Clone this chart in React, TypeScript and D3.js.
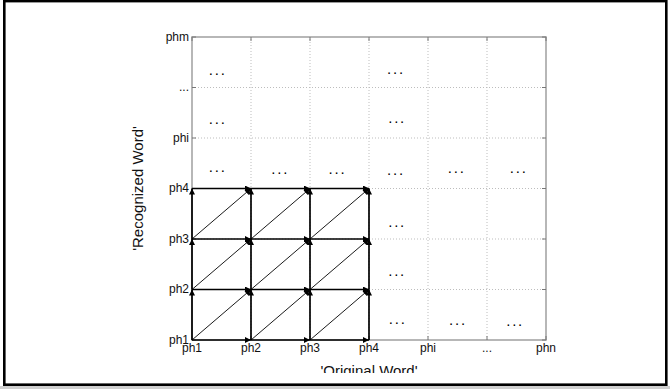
import { useEffect, useRef } from 'react';
import * as d3 from 'd3';

// tick labels on each axis (index = grid position)
const xTickLabels = ['ph1', 'ph2', 'ph3', 'ph4', 'phi', '...', 'phn'];
const yTickLabels = ['ph1', 'ph2', 'ph3', 'ph4', 'phi', '...', 'phm'];

// nodes of the arrow lattice (indices into the tick labels)
const latticeCols = [0, 1, 2, 3];
const latticeRows = [0, 1, 2, 3];

// "..." markers placed in the cells (data coordinates)
const ellipsisX = [0.42, 0.42, 0.42, 1.48, 2.45, 3.44, 3.46, 3.44, 4.47, 5.52, 3.46, 3.46, 3.47, 4.49, 5.46];
const ellipsisY = [5.26, 4.3, 3.35, 3.31, 3.31, 5.28, 4.31, 3.28, 3.32, 3.33, 2.26, 1.29, 0.33, 0.32, 0.3];

const W = 670;
const H = 389;

export default function App() {
  const ref = useRef<SVGSVGElement>(null);

  useEffect(() => {
    const svg = d3.select(ref.current);
    svg.selectAll('*').remove();

    const x = d3.scaleLinear().domain([0, 6]).range([192, 546]);
    const y = d3.scaleLinear().domain([0, 6]).range([340, 37]);
    const font = 'Liberation Sans, Arial, sans-serif';

    const defs = svg.append('defs');
    defs.append('marker')
      .attr('id', 'arrow')
      .attr('viewBox', '0 0 10 10')
      .attr('refX', 10)
      .attr('refY', 5)
      .attr('markerWidth', 7)
      .attr('markerHeight', 6)
      .attr('markerUnits', 'userSpaceOnUse')
      .attr('orient', 'auto')
      .append('path')
      .attr('d', 'M0,0L10,5L0,10z')
      .attr('fill', '#000');
    defs.append('clipPath')
      .attr('id', 'cut')
      .append('rect')
      .attr('x', 0).attr('y', 0).attr('width', W).attr('height', 373);

    svg.append('rect').attr('width', W).attr('height', H).attr('fill', '#fff');

    const ticks = d3.range(7);

    // grid
    const grid = svg.append('g')
      .attr('stroke', '#bdbdbd')
      .attr('stroke-width', 1)
      .attr('stroke-dasharray', '1,2');
    grid.selectAll('.gx').data(ticks.slice(1, 6)).enter().append('line')
      .attr('x1', d => x(d)).attr('x2', d => x(d))
      .attr('y1', y(0)).attr('y2', y(6));
    grid.selectAll('.gy').data(ticks.slice(1, 6)).enter().append('line')
      .attr('y1', d => y(d)).attr('y2', d => y(d))
      .attr('x1', x(0)).attr('x2', x(6));

    // axes box + inward ticks
    svg.append('rect')
      .attr('x', x(0)).attr('y', y(6))
      .attr('width', x(6) - x(0)).attr('height', y(0) - y(6))
      .attr('fill', 'none').attr('stroke', '#a6a6a6').attr('stroke-width', 1.6);
    const tk = svg.append('g').attr('stroke', '#777').attr('stroke-width', 1);
    ticks.forEach(t => {
      tk.append('line').attr('x1', x(t)).attr('x2', x(t)).attr('y1', y(0)).attr('y2', y(0) - 4);
      tk.append('line').attr('x1', x(t)).attr('x2', x(t)).attr('y1', y(6)).attr('y2', y(6) + 4);
      tk.append('line').attr('y1', y(t)).attr('y2', y(t)).attr('x1', x(0)).attr('x2', x(0) + 4);
      tk.append('line').attr('y1', y(t)).attr('y2', y(t)).attr('x1', x(6)).attr('x2', x(6) - 4);
    });

    // tick labels
    svg.append('g').selectAll('text').data(xTickLabels).enter().append('text')
      .attr('x', (_, i) => x(i))
      .attr('y', 352)
      .attr('text-anchor', 'middle')
      .attr('font-family', font)
      .attr('font-size', 12)
      .attr('fill', '#111')
      .text(d => d);
    svg.append('g').selectAll('text').data(yTickLabels).enter().append('text')
      .attr('x', x(0) - 3)
      .attr('y', (_, i) => y(i))
      .attr('dy', '0.33em')
      .attr('text-anchor', 'end')
      .attr('font-family', font)
      .attr('font-size', 12)
      .attr('fill', '#111')
      .text(d => d);

    // lattice edges
    const edges: { a: number[]; b: number[]; thick: boolean }[] = [];
    latticeCols.forEach((c, ci) => {
      latticeRows.forEach((r, ri) => {
        if (ci < latticeCols.length - 1) edges.push({ a: [c, r], b: [latticeCols[ci + 1], r], thick: true });
        if (ri < latticeRows.length - 1) edges.push({ a: [c, r], b: [c, latticeRows[ri + 1]], thick: true });
        if (ci < latticeCols.length - 1 && ri < latticeRows.length - 1)
          edges.push({ a: [c, r], b: [latticeCols[ci + 1], latticeRows[ri + 1]], thick: false });
      });
    });
    svg.append('g').selectAll('line').data(edges).enter().append('line')
      .attr('x1', d => x(d.a[0])).attr('y1', d => y(d.a[1]))
      .attr('x2', d => x(d.b[0])).attr('y2', d => y(d.b[1]))
      .attr('stroke', '#000')
      .attr('stroke-width', d => (d.thick ? 1.7 : 0.9))
      .attr('marker-end', 'url(#arrow)');

    // "..." markers
    svg.append('g').selectAll('text').data(ellipsisX).enter().append('text')
      .attr('x', d => x(d) + 1)
      .attr('y', (_, i) => y(ellipsisY[i]) + 1)
      .attr('text-anchor', 'middle')
      .attr('font-family', font)
      .attr('font-size', 15)
      .attr('letter-spacing', 1.8)
      .attr('fill', '#000')
      .text('...');

    // axis titles
    svg.append('text')
      .attr('transform', `translate(143,${(y(0) + y(6)) / 2}) rotate(-90)`)
      .attr('text-anchor', 'middle')
      .attr('font-family', font)
      .attr('font-size', 15)
      .attr('fill', '#111')
      .text("'Recognized Word'");
    svg.append('text')
      .attr('x', (x(0) + x(6)) / 2)
      .attr('y', 376)
      .attr('text-anchor', 'middle')
      .attr('font-family', font)
      .attr('font-size', 15)
      .attr('fill', '#111')
      .attr('clip-path', 'url(#cut)')
      .text("'Original Word'");

    // outer frame
    svg.append('rect').attr('x', 0).attr('y', 386).attr('width', W).attr('height', 3).attr('fill', '#cfcfcf');
    svg.append('rect')
      .attr('x', 4.3).attr('y', 1.1)
      .attr('width', 662).attr('height', 383.6)
      .attr('fill', 'none').attr('stroke', '#000').attr('stroke-width', 2.6);
  }, []);

  return (
    <>
      <style>{'body{margin:0}'}</style>
      <svg ref={ref} width={W} height={H} style={{ display: 'block' }}></svg>
    </>
  );
}
